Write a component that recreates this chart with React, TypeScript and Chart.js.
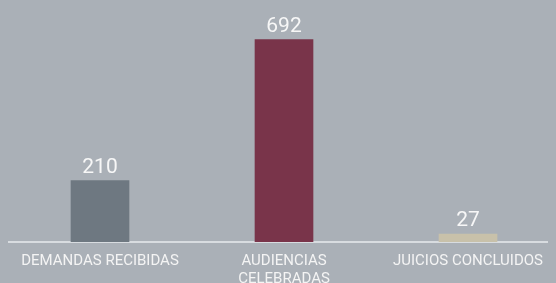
import React, { useEffect, useRef } from "react";
import { Chart, registerables } from "chart.js";

Chart.register(...registerables);

const categories: (string | string[])[] = [
  "DEMANDAS RECIBIDAS",
  ["AUDIENCIAS", "CELEBRADAS"],
  "JUICIOS CONCLUIDOS",
];
const values: number[] = [210, 692, 27];
const barColors: string[] = ["#6e7881", "#79344a", "#c8c1aa"];

const valueLabels = {
  id: "valueLabels",
  afterDatasetsDraw(chart: any) {
    const ctx = chart.ctx;
    const meta = chart.getDatasetMeta(0);
    ctx.save();
    ctx.fillStyle = "#f7f7f7";
    ctx.font = "21px Roboto";
    ctx.textAlign = "center";
    ctx.textBaseline = "alphabetic";
    meta.data.forEach((bar: any, i: number) => {
      ctx.fillText(String(values[i]), bar.x, bar.y - 8);
    });
    ctx.restore();
  },
};

export default function App() {
  const ref = useRef<HTMLCanvasElement>(null);
  useEffect(() => {
    document.body.style.background = "#aab0b7";
    document.body.style.overflow = "hidden";
    const chart = new Chart(ref.current!, {
      type: "bar",
      data: {
        labels: categories,
        datasets: [
          {
            data: values,
            backgroundColor: barColors,
            barThickness: 58,
          },
        ],
      },
      options: {
        animation: false,
        responsive: false,
        maintainAspectRatio: false,
        layout: { padding: 0 },
        plugins: { legend: { display: false }, tooltip: { enabled: false } },
        scales: {
          x: {
            grid: { display: false, drawTicks: false },
            border: { display: true, color: "#d8dce0", width: 2 },
            ticks: {
              color: "#f4f4f4",
              font: { family: "Roboto", size: 15 },
              padding: 10,
              maxRotation: 0,
              autoSkip: false,
            },
          },
          y: {
            display: false,
            min: 0,
            max: 800,
          },
        },
      },
      plugins: [valueLabels],
    });
    return () => chart.destroy();
  }, []);
  return (
    <div style={{ width: 552, height: 290 }}>
      <canvas ref={ref} width={552} height={290} />
    </div>
  );
}
